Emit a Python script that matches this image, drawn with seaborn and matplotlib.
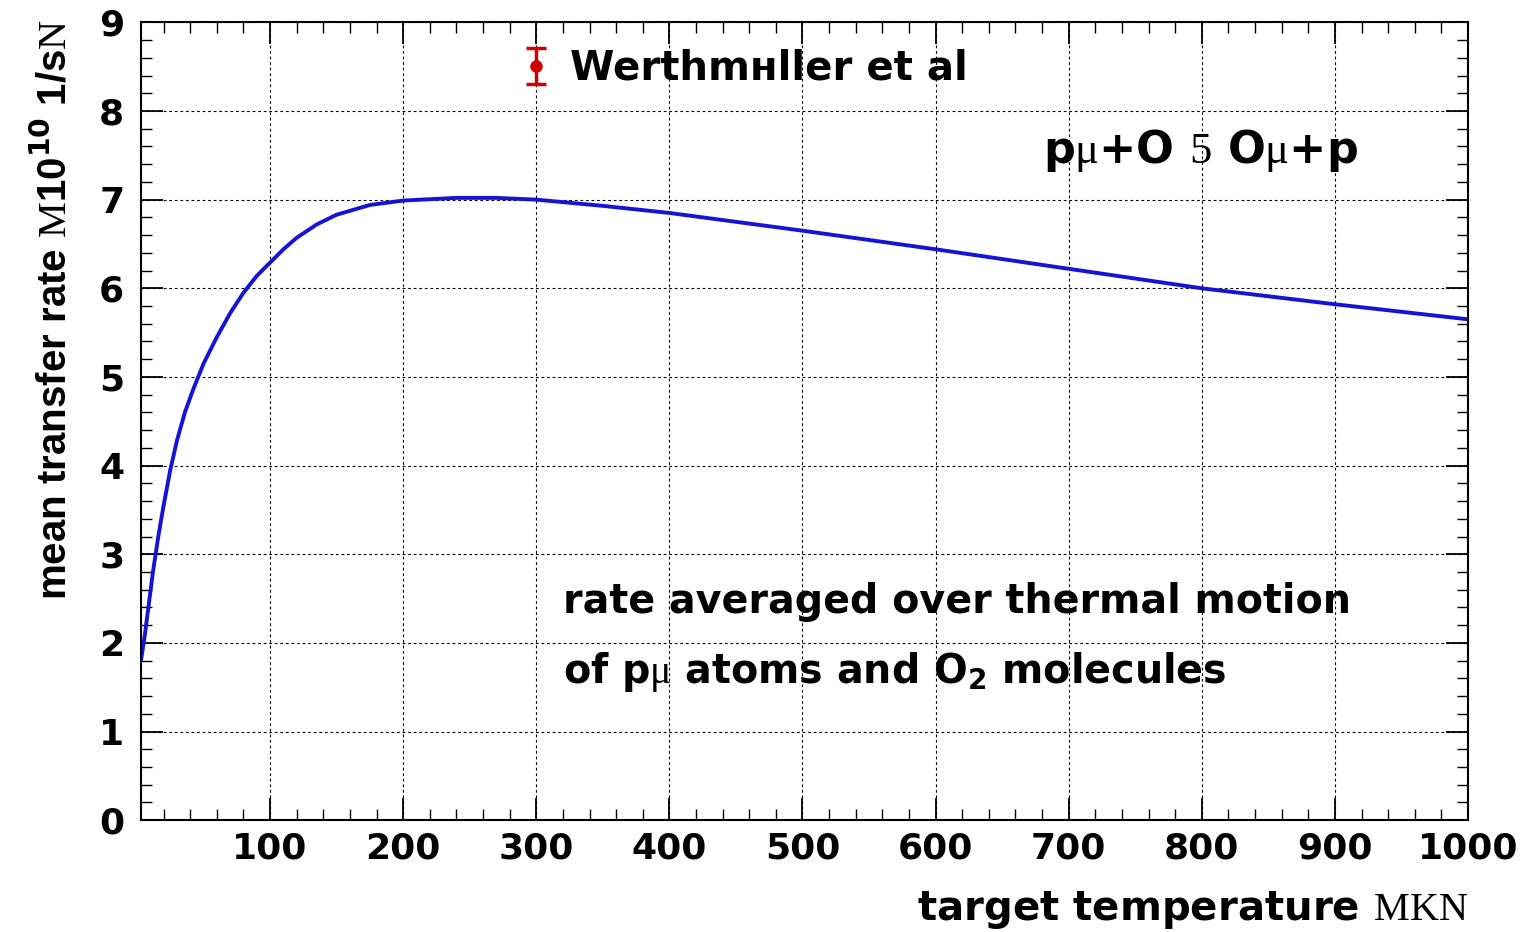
import numpy as np
import pandas as pd
import seaborn as sns
import matplotlib.pyplot as plt
from matplotlib.ticker import MultipleLocator

# ---- data ----
temperature = [3, 6, 9, 12, 16, 20, 25, 30, 36, 42, 50, 60, 70, 80, 90, 100,
               110, 120, 135, 150, 175, 200, 240, 270, 300, 350, 400, 500,
               600, 700, 800, 900, 1000]
rate = [1.80, 2.10, 2.45, 2.80, 3.20, 3.55, 3.95, 4.28, 4.60, 4.85, 5.15, 5.45,
        5.72, 5.95, 6.14, 6.29, 6.44, 6.57, 6.72, 6.83, 6.94, 6.99, 7.02, 7.02,
        7.00, 6.93, 6.85, 6.65, 6.44, 6.22, 6.00, 5.82, 5.65]
exp_temperature = [300]
exp_rate = [8.51]
exp_err = [0.20]
exp_label = "Werthmнller et al"
reaction_label = r"p$\mathcal{μ}$+O $\mathcal{5}$ O$\mathcal{μ}$+p"
note_lines = ["rate averaged over thermal motion",
              r"of p$\mathcal{μ}$ atoms and O$_\mathbf{2}$ molecules"]
x_label = r"target temperature $\mathcal{MKN}$"
y_label = r"mean transfer rate $\mathcal{M}$10$^{\mathbf{10}}$ 1/s$\mathcal{N}$"
x_ticks = [100, 200, 300, 400, 500, 600, 700, 800, 900, 1000]
y_ticks = [0, 1, 2, 3, 4, 5, 6, 7, 8, 9]

sns.set_style("ticks")
plt.rcParams['font.family'] = ['DejaVu Sans']
plt.rcParams['text.color'] = 'black'
plt.rcParams['axes.labelcolor'] = 'black'
plt.rcParams['xtick.color'] = 'black'
plt.rcParams['ytick.color'] = 'black'
plt.rcParams['mathtext.fontset'] = 'custom'
plt.rcParams['mathtext.rm'] = 'DejaVu Sans:bold'
plt.rcParams['mathtext.bf'] = 'DejaVu Sans:bold'
plt.rcParams['mathtext.it'] = 'DejaVu Sans:bold'
plt.rcParams['mathtext.cal'] = 'Liberation Serif'

fig = plt.figure(figsize=(15.29, 9.32), dpi=100)
ax = fig.add_axes([0.0922, 0.120, 0.8679, 0.856])

df = pd.DataFrame({"T": temperature, "rate": rate})
sns.lineplot(data=df, x="T", y="rate", ax=ax, color="#1414d2", linewidth=2.8,
             sort=True, estimator=None)

ax.errorbar(exp_temperature, exp_rate, yerr=exp_err, fmt='o', color="#d00000",
            markersize=8, capsize=7, elinewidth=2.5, capthick=2.5, zorder=5)

ax.set_xlim(3, 1000)
ax.set_ylim(0, 9)
ax.set_xticks(x_ticks)
ax.set_yticks(y_ticks)
ax.xaxis.set_minor_locator(MultipleLocator(20))
ax.yaxis.set_minor_locator(MultipleLocator(0.2))

ax.grid(True, which='major', color='black', linestyle=(0, (2.5, 2.5)), linewidth=0.8)
for s in ax.spines.values():
    s.set_visible(True)
    s.set_color('black')
    s.set_linewidth(1.5)

ax.tick_params(which='both', direction='in', top=True, right=True, color='black')
ax.tick_params(which='major', length=16, width=1.3, labelsize=26, pad=8)
ax.tick_params(which='minor', length=8, width=1.0)
ax.tick_params(axis='y', which='major', pad=12)
for lab in ax.get_xticklabels() + ax.get_yticklabels():
    lab.set_fontweight('bold')

ax.set_xlabel(x_label, loc='right', fontsize=29, fontweight='bold')
ax.xaxis.set_label_coords(1.0, -0.086)
ax.set_ylabel(y_label, loc='top', fontsize=29, fontweight='bold',
              family=['Liberation Sans', 'DejaVu Sans'])
ax.yaxis.set_label_coords(-0.050, 1.004)

ax.text(325, 8.48, exp_label, fontsize=29, fontweight='bold', va='center', ha='left')
ax.text(681, 7.55, reaction_label, fontsize=32, fontweight='bold', va='center', ha='left')
ax.text(320, 2.46, note_lines[0], fontsize=28.5, fontweight='bold', va='center', ha='left')
ax.text(320, 1.67, note_lines[1], fontsize=28.5, fontweight='bold', va='center', ha='left')

fig.savefig("out.png", dpi=100)
